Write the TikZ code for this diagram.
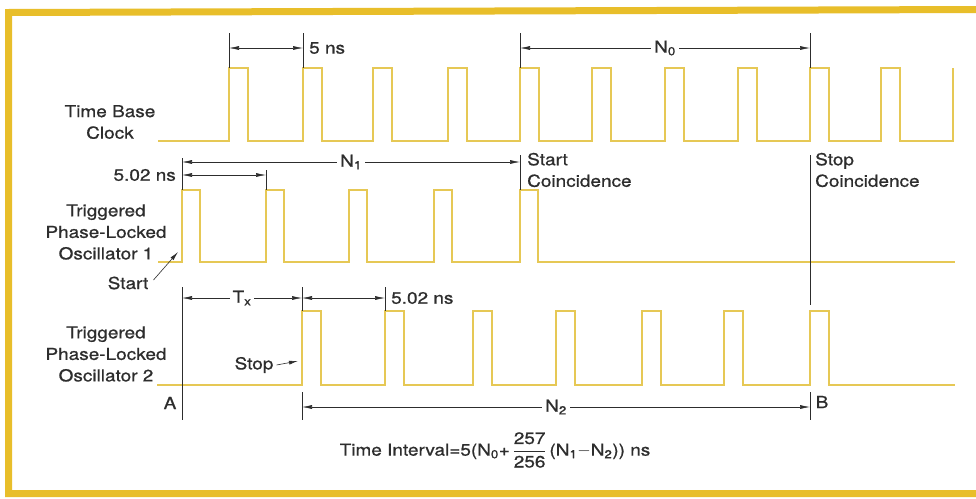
\documentclass[tikz,border=0pt]{standalone}
\usepackage{fontspec}
\usepackage{amsmath}
\setmainfont{TeX Gyre Heros}[FakeStretch=1.15,FakeBold=0.8]
\usetikzlibrary{arrows.meta,calc}
\definecolor{frameyellow}{RGB}{232,190,42}
\definecolor{sigyellow}{RGB}{230,200,85}
\definecolor{inkgray}{RGB}{45,45,45}
\begin{document}
\begin{tikzpicture}[x=1pt,y=-1pt,
  sig/.style={draw=sigyellow,line width=1.7pt,line join=miter},
  dim/.style={draw=inkgray,line width=0.6pt},
  tip/.style={-{Latex[length=9pt,width=4pt]}},
  dimarrow/.style={dim,{Latex[length=10pt,width=4pt]}-{Latex[length=10pt,width=4pt]}},
  lbl/.style={text=inkgray,font=\fontsize{16.5}{21.5}\selectfont,inner sep=1pt},
  midlbl/.style={lbl,fill=white,inner sep=3pt}]
\useasboundingbox (0,0) rectangle (976,498);
\fill[white] (0,0) rectangle (976,498);
% frame
\draw[frameyellow,line width=7pt] (980,9.5) -- (8.5,12.5) -- (8.5,493.5) -- (980,493.5);

% Time base clock
\draw[sig] (158,141) foreach \r in {229,303,373,448,520,592,665,738,810,881}
  { -- (\r,141) -- (\r,68) -- (\r+19,68) -- (\r+19,141) } -- (953,141) -- (953,68);
% Oscillator 1
\draw[sig] (158,262) foreach \r in {182,266,349,434,520}
  { -- (\r,262) -- (\r,190) -- (\r+18,190) -- (\r+18,262) } -- (955,262);
% Oscillator 2
\draw[sig] (157,385) foreach \r in {302,385,473,556,642,724,810}
  { -- (\r,385) -- (\r,311) -- (\r+19,311) -- (\r+19,385) } -- (955,385);

% labels
\node[lbl,align=center] (tbc) at (110,122) {Time Base\\Clock};
\node[lbl,align=center] (osc1) at (106,232) {Triggered\\Phase-Locked\\Oscillator 1};
\node[lbl,align=center] (osc2) at (106,354) {Triggered\\Phase-Locked\\Oscillator 2};
\node[lbl,anchor=west] (fivens) at (308,48) {5 ns};
\node[lbl,anchor=east] (t502) at (177,175) {5.02 ns};
\node[lbl,anchor=west] (b502) at (390,298) {5.02 ns};
\node[lbl,anchor=west,align=left] (startc) at (526,170) {Start\\Coincidence};
\node[lbl,anchor=west,align=left] (stopc) at (814,170) {Stop\\Coincidence};
\node[lbl] (A) at (170,403) {A};
\node[lbl] (B) at (822,402) {B};
\node[lbl] (startl) at (128,283) {Start};
\node[lbl] (stopl) at (254,365) {Stop};
\node[lbl] (formula) at (495,450)
  {Time Interval=5(N\textsubscript{0}+\,$\dfrac{\text{257}}{\text{256}}$\,(N\textsubscript{1}$-$N\textsubscript{2})) ns};

% tick coordinates
\coordinate (k229t) at (229,33); \coordinate (k229b) at (229,68);
\coordinate (k303t) at (303,33); \coordinate (k303b) at (303,68);
\coordinate (k520t) at (520,33); \coordinate (k520b) at (520,68);
\coordinate (k810t) at (810,33); \coordinate (k810b) at (810,68);
\coordinate (k182t) at (182,158); \coordinate (k182b) at (182,190);
\coordinate (k266t) at (266,170); \coordinate (k266b) at (266,190);
\coordinate (s520t) at (520,155); \coordinate (s520b) at (520,190);
\coordinate (s810t) at (810,155); \coordinate (s810b) at (810,305);
\coordinate (At) at (182,287); \coordinate (Ab) at (182,420);
\coordinate (k302t) at (302,287); \coordinate (k302b) at (302,311);
\coordinate (k385t) at (385,287); \coordinate (k385b) at (385,311);
\coordinate (n302t) at (302,392); \coordinate (n302b) at (302,420);
\coordinate (n810t) at (810,392); \coordinate (n810b) at (810,420);
\foreach \a/\b in {k229t/k229b,k303t/k303b,k520t/k520b,k810t/k810b,k182t/k182b,
  k266t/k266b,s520t/s520b,s810t/s810b,At/Ab,k302t/k302b,k385t/k385b,n302t/n302b,n810t/n810b}
  \draw[dim] (\a) -- (\b);

% dimension arrows
\draw[dimarrow] (229,48) -- (303,48);
\draw[dimarrow] (520,48) -- node[midlbl] (N0) {N\textsubscript{0}} (810,48);
\draw[dimarrow] (182,162) -- node[midlbl] (N1) {N\textsubscript{1}} (520,162);
\draw[dimarrow] (182,175) -- (266,175);
\draw[dimarrow] (182,298) -- node[midlbl] (Tx) {T\textsubscript{x}} (302,298);
\draw[dimarrow] (302,298) -- (385,298);
\draw[dimarrow] (302,407) -- node[midlbl] (N2) {N\textsubscript{2}} (810,407);

% pointer arrows
\coordinate (startpt) at (178,252);
\coordinate (stoppt) at (298,361);
\draw[dim,tip] ($(startl.east)+(4,-3)$) -- (startpt);
\draw[dim,tip] ($(stopl.east)+(2,0)$) -- (stoppt);
\end{tikzpicture}
\end{document}
